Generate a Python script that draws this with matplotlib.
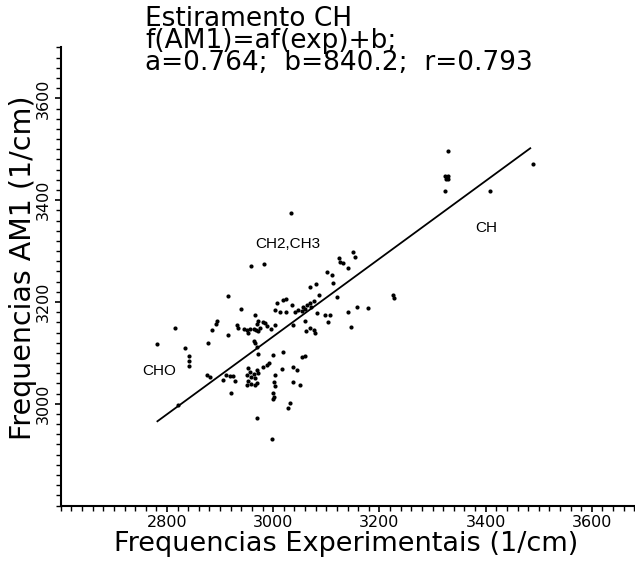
import numpy as np
import matplotlib
matplotlib.use('Agg')
import matplotlib.pyplot as plt
from matplotlib.ticker import MultipleLocator

# frequencias experimentais (1/cm)
freq_exp = [2958, 2983, 2914, 2939, 2816, 2782, 2834, 2841, 2841, 2842,
            2884, 2894, 2893, 2878, 2914, 2931, 2934,
            2945, 2950, 2956, 2963, 2968, 2972, 2976, 2970, 2966, 2971,
            2953, 2981, 2988, 2995, 3003, 2985, 2963, 2966, 2969,
            3007, 3004, 3013, 3019, 3025, 3035, 3041, 3047, 3054, 3060,
            3063, 3069, 3072, 3076, 3057, 3024, 3038, 3060, 3062, 3069,
            3076, 3079, 3087, 3081, 3069, 3082, 3098, 3104, 3107, 3120,
            3101, 3110, 3112, 3123, 3126, 3131, 3140, 3141, 3146, 3158,
            3179, 3151,
            2875, 2881, 2906, 2912, 2919, 2925, 2928, 2921, 2953, 2950,
            2956, 2959, 2963, 2966, 2969, 2972, 2953, 2959, 2966, 2950,
            2969, 2972, 2981, 2988, 2992, 3000, 3018, 3016, 3003, 3002,
            3003, 3000, 3002, 2999, 3037, 3044, 3054, 3060, 3050, 3038,
            3032, 3028, 2821, 2969, 2997,
            3330, 3323, 3327, 3330, 3325, 3330, 3323, 3409, 3489,
            3154, 3226, 3227, 3033]
# frequencias AM1 (1/cm)
freq_am1 = [3270, 3274, 3212, 3187, 3148, 3118, 3110, 3093, 3084, 3074,
            3145, 3163, 3157, 3120, 3136, 3154, 3148,
            3147, 3145, 3146, 3147, 3145, 3143, 3148, 3157, 3175, 3163,
            3139, 3161, 3152, 3147, 3155, 3158, 3124, 3119, 3112,
            3198, 3184, 3180, 3204, 3205, 3194, 3181, 3184, 3183, 3186,
            3194, 3198, 3191, 3201, 3191, 3181, 3155, 3162, 3142, 3148,
            3145, 3139, 3214, 3235, 3229, 3178, 3175, 3160, 3175, 3209,
            3258, 3253, 3237, 3286, 3278, 3276, 3266, 3181, 3150, 3190,
            3188, 3299,
            3057, 3053, 3047, 3057, 3055, 3055, 3044, 3022, 3070, 3057,
            3063, 3053, 3059, 3050, 3066, 3060, 3044, 3038, 3037, 3037,
            3040, 3098, 3073, 3076, 3080, 3096, 3101, 3068, 3057, 3042,
            3034, 3021, 3014, 3009, 3073, 3066, 3091, 3094, 3037, 3042,
            3002, 2991, 2998, 2972, 2930,
            3497, 3448, 3445, 3442, 3441, 3448, 3418, 3418, 3471,
            3289, 3214, 3207, 3374]

a = 0.764
b = 840.2
r = 0.793
x_fit = np.array([2782, 3484])

grupos = ['CH2,CH3', 'CHO', 'CH']
grupos_x = [2966, 2753, 3380]
grupos_y = [3314, 3064, 3346]

fig = plt.figure(figsize=(6.35, 5.61), dpi=100)
ax = fig.add_axes([0.0957, 0.0988, 0.92, 0.8166])

ax.scatter(freq_exp, freq_am1, s=9, marker='o', color='black', linewidths=0)
ax.plot(x_fit, a * x_fit + b, color='black', lw=1.3)

for g, gx, gy in zip(grupos, grupos_x, grupos_y):
    ax.text(gx, gy, g, fontsize=11, family='Liberation Sans', va='center', ha='left')

ax.set_xlim(2600, 3700)
ax.set_ylim(2800, 3700)
ax.set_xticks([2800, 3000, 3200, 3400, 3600])
ax.set_yticks([3000, 3200, 3400, 3600])
ax.xaxis.set_minor_locator(MultipleLocator(20))
ax.yaxis.set_minor_locator(MultipleLocator(20))
ax.tick_params(which='major', length=4.5, width=1.2, labelsize=11.5, pad=2.5)
ax.tick_params(which='minor', length=3.8, width=1.0)
for t in ax.get_yticklabels():
    t.set_rotation(90)
    t.set_va('center')

for s in ['top', 'right']:
    ax.spines[s].set_visible(False)
for s in ['left', 'bottom']:
    ax.spines[s].set_linewidth(1.5)

ax.set_xlabel('Frequencias Experimentais (1/cm)', fontsize=19.5)
ax.xaxis.label.set_va('center')
ax.xaxis.set_label_coords((346 - 60.8) / 584.2, (505.6 - 544) / 458)
ax.set_ylabel('Frequencias AM1 (1/cm)', fontsize=20.5)
ax.yaxis.label.set_va('center')
ax.yaxis.set_label_coords((23 - 60.8) / 584.2, (505.6 - 268) / 458)

titulo = ['Estiramento CH',
          'f(AM1)=af(exp)+b;',
          'a=%.3f;  b=%.1f;  r=%.3f' % (a, b, r)]
fig.text(145 / 635, 1 - 41 / 561, '\n'.join(titulo), fontsize=19,
         va='center', ha='left', linespacing=0.78)

fig.savefig('out.png', dpi=100)
